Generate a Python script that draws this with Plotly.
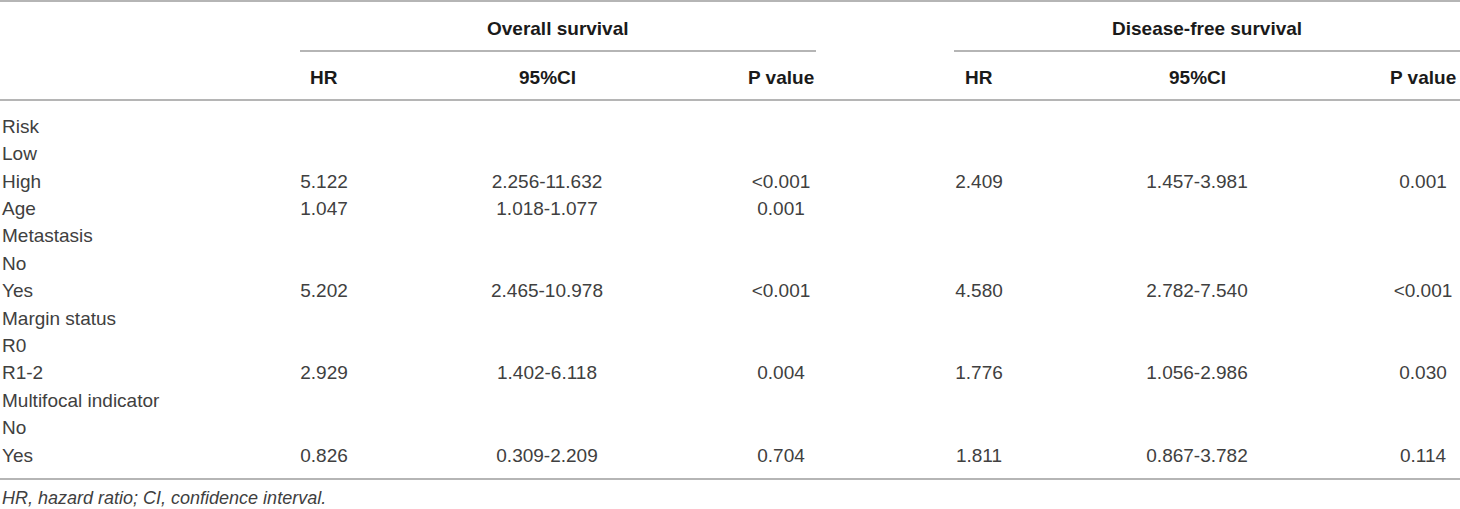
import plotly.graph_objects as go

# ---------- dados da tabela ----------
row_labels = ["Risk", "Low", "High", "Age", "Metastasis", "No", "Yes",
              "Margin status", "R0", "R1-2", "Multifocal indicator", "No", "Yes"]

os_hr = ["", "", "5.122", "1.047", "", "", "5.202", "", "", "2.929", "", "", "0.826"]
os_ci = ["", "", "2.256-11.632", "1.018-1.077", "", "", "2.465-10.978", "", "",
         "1.402-6.118", "", "", "0.309-2.209"]
os_p = ["", "", "<0.001", "0.001", "", "", "<0.001", "", "", "0.004", "", "", "0.704"]

dfs_hr = ["", "", "2.409", "", "", "", "4.580", "", "", "1.776", "", "", "1.811"]
dfs_ci = ["", "", "1.457-3.981", "", "", "", "2.782-7.540", "", "",
          "1.056-2.986", "", "", "0.867-3.782"]
dfs_p = ["", "", "0.001", "", "", "", "<0.001", "", "", "0.030", "", "", "0.114"]

groups = ["Overall survival", "Disease-free survival"]
sub_headers = ["HR", "95%CI", "P value", "HR", "95%CI", "P value"]
footnote = "HR, hazard ratio; CI, confidence interval."

# ---------- layout (pixels) ----------
W, H = 1460, 509
ROW0, ROW_H = 128, 27.4
COL_X = [324, 547, 781, 979, 1197, 1423]
GROUP_SPAN = [(300, 816), (954, 1460)]
LINE_COLOR = "#9c9c9c"
FONT = "Liberation Sans, Arial, sans-serif"
BODY_COLOR = "#404040"


def esc(s):
    return s.replace("<", "&lt;")


row_y = [ROW0 + ROW_H * i for i in range(len(row_labels))]

fig = go.Figure()

# coluna das variáveis
fig.add_trace(go.Scatter(
    x=[2] * len(row_labels), y=row_y, text=row_labels, mode="text",
    textposition="middle right", cliponaxis=False, hoverinfo="skip",
    textfont=dict(family=FONT, size=19, color=BODY_COLOR),
))

# colunas de valores
for cx, col in zip(COL_X, [os_hr, os_ci, os_p, dfs_hr, dfs_ci, dfs_p]):
    fig.add_trace(go.Scatter(
        x=[cx] * len(col), y=row_y, text=[esc(v) for v in col], mode="text",
        textposition="middle center", cliponaxis=False, hoverinfo="skip",
        textfont=dict(family=FONT, size=19, color=BODY_COLOR),
    ))

# cabeçalhos
for (x0, x1), g in zip(GROUP_SPAN, groups):
    fig.add_annotation(x=(x0 + x1) / 2, y=28, text=f"<b>{g}</b>", showarrow=False,
                       xanchor="center", yanchor="middle",
                       font=dict(family=FONT, size=19, color="#1a1a1a"))
    fig.add_shape(type="line", x0=x0, x1=x1, y0=51, y1=51,
                  line=dict(color=LINE_COLOR, width=1.5))

for cx, h in zip(COL_X, sub_headers):
    fig.add_annotation(x=cx, y=77, text=f"<b>{h}</b>", showarrow=False,
                       xanchor="center", yanchor="middle",
                       font=dict(family=FONT, size=19, color="#1a1a1a"))

# linhas horizontais
for yl in [1, 100, 479]:
    fig.add_shape(type="line", x0=0, x1=W, y0=yl, y1=yl,
                  line=dict(color=LINE_COLOR, width=1.5))

# nota de rodapé
fig.add_annotation(x=0, y=498, text=f"<i>{footnote}</i>", showarrow=False,
                   xanchor="left", yanchor="middle",
                   font=dict(family=FONT, size=18, color=BODY_COLOR))

fig.update_layout(
    width=W, height=H, margin=dict(l=0, r=0, t=0, b=0),
    paper_bgcolor="white", plot_bgcolor="white", showlegend=False,
    xaxis=dict(range=[0, W], visible=False, fixedrange=True),
    yaxis=dict(range=[H, 0], visible=False, fixedrange=True),
)

# sem margem do body para a figura ocupar a janela toda
fig.write_html("out.html", config={"displayModeBar": False},
               post_script="document.body.style.margin='0';")
